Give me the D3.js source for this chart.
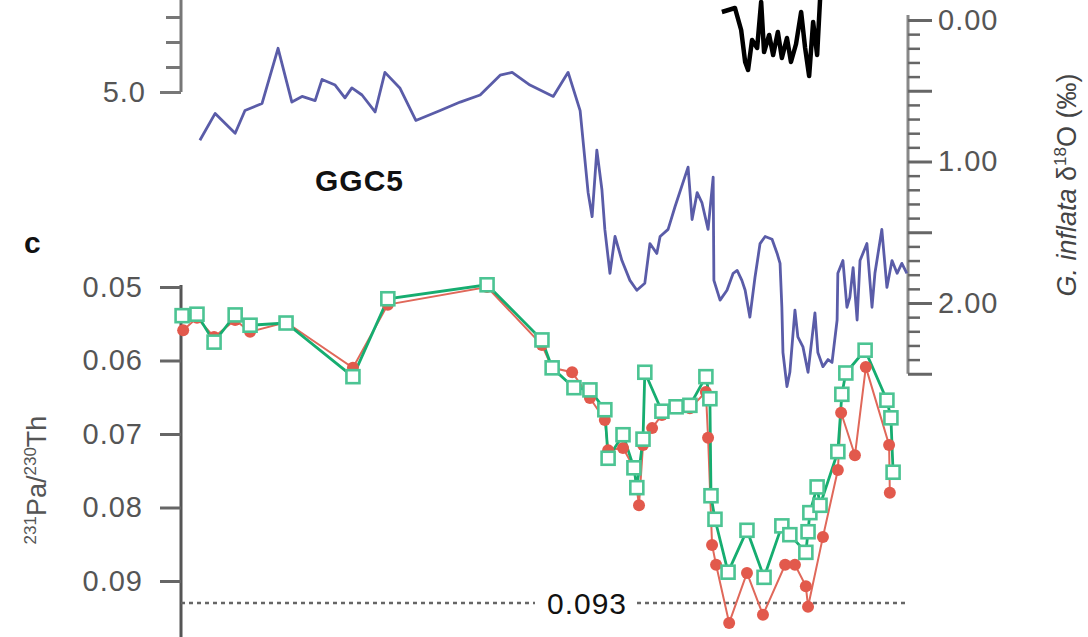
<!DOCTYPE html>
<html>
<head>
<meta charset="utf-8">
<script src="https://cdn.jsdelivr.net/npm/d3@7"></script>
<style>
  body { margin: 0; background: #fff; }
  svg { display: block; font-family: "Liberation Sans", Arial, Helvetica, sans-serif; }
</style>
</head>
<body>
<svg id="chart"></svg>
<script>
const width = 1088;
const height = 637;

// GGC5 G. inflata d18O (per mil), age in ka
const d18oAges = [0.52, 0.94, 1.49, 1.76, 2.23, 2.67, 3.05, 3.33, 3.69, 3.88, 4.24, 4.51, 4.70, 4.98, 5.34, 5.61,
    6.02, 6.46, 7.13, 7.68, 8.23, 8.78, 9.11, 9.60, 10.24, 10.65, 10.98, 11.20, 11.31, 11.44, 11.58, 11.66, 11.80,
    11.94, 12.13, 12.35, 12.54, 12.76, 12.90, 13.09, 13.18, 13.40, 13.59, 13.95, 14.06, 14.20, 14.33, 14.50, 14.64,
    14.66, 14.83, 15.02, 15.19, 15.30, 15.43, 15.52, 15.65, 15.79, 15.93, 16.07, 16.26, 16.40, 16.48, 16.53, 16.56,
    16.67, 16.75, 16.89, 16.97, 17.11, 17.25, 17.44, 17.52, 17.66, 17.80, 17.91, 18.05, 18.07, 18.21, 18.32, 18.40,
    18.49, 18.60, 18.68, 18.87, 19.01, 19.09, 19.28, 19.42, 19.56, 19.70, 19.83, 19.97];
const d18oValues = [0.85, 0.66, 0.80, 0.64, 0.59, 0.20, 0.58, 0.54, 0.57, 0.42, 0.46, 0.55, 0.48, 0.53, 0.65, 0.37,
    0.48, 0.71, 0.64, 0.58, 0.53, 0.39, 0.37, 0.46, 0.54, 0.37, 0.64, 1.22, 1.39, 0.92, 1.20, 1.48, 1.79,
    1.53, 1.70, 1.84, 1.91, 1.86, 1.58, 1.65, 1.53, 1.48, 1.32, 1.04, 1.41, 1.22, 1.29, 1.48, 1.11,
    1.84, 1.98, 1.91, 1.79, 1.77, 1.84, 1.91, 2.10, 1.82, 1.58, 1.53, 1.55, 1.65, 1.72, 2.03, 2.35,
    2.59, 2.49, 2.05, 2.24, 2.31, 2.49, 2.07, 2.35, 2.45, 2.40, 2.42, 2.12, 1.79, 1.70, 2.03, 1.96,
    1.75, 2.12, 1.70, 1.58, 2.03, 1.79, 1.48, 1.89, 1.70, 1.79, 1.72, 1.79];

// Pa/Th, open green squares
const greenAges = [0.03, 0.44, 0.91, 1.49, 1.90, 2.89, 4.73, 5.69, 8.42, 9.93, 10.21, 10.81, 11.25, 11.66, 11.75,
    12.16, 12.46, 12.54, 12.71, 12.76, 13.23, 13.62, 14.00, 14.44, 14.55, 14.58, 14.69, 15.05, 15.57, 16.04, 16.53,
    16.75, 17.19, 17.25, 17.30, 17.50, 17.58, 18.07, 18.18, 18.29, 18.82, 19.42, 19.53, 19.59];
const greenValues = [0.0539, 0.0537, 0.0575, 0.0538, 0.0552, 0.0549, 0.0622, 0.0516, 0.0497, 0.0572, 0.0610, 0.0637,
    0.0640, 0.0667, 0.0733, 0.0701, 0.0746, 0.0773, 0.0707, 0.0616, 0.0669, 0.0663, 0.0661, 0.0622, 0.0652, 0.0784,
    0.0816, 0.0888, 0.0831, 0.0895, 0.0825, 0.0837, 0.0861, 0.0833, 0.0807, 0.0772, 0.0797, 0.0724, 0.0646, 0.0617,
    0.0586, 0.0654, 0.0678, 0.0752];

// Pa/Th, filled red circles
const redAges = [0.06, 0.44, 0.91, 1.49, 1.90, 2.89, 4.73, 5.69, 8.42, 9.93, 10.21, 10.76, 11.25, 11.66, 11.75,
    12.16, 12.46, 12.60, 12.71, 12.96, 13.23, 14.00, 14.44, 14.50, 14.61, 14.72, 15.08, 15.57, 16.01, 16.62, 16.89,
    17.19, 17.25, 17.66, 18.07, 18.16, 18.54, 18.84, 19.48, 19.50];
const redValues = [0.0559, 0.0542, 0.0568, 0.0545, 0.0561, 0.0548, 0.0610, 0.0524, 0.0500, 0.0579, 0.0610, 0.0616,
    0.0651, 0.0681, 0.0722, 0.0719, 0.0746, 0.0797, 0.0715, 0.0692, 0.0674, 0.0665, 0.0643, 0.0705, 0.0851, 0.0878,
    0.0957, 0.0889, 0.0946, 0.0878, 0.0878, 0.0907, 0.0935, 0.0840, 0.0749, 0.0671, 0.0729, 0.0609, 0.0715, 0.0780];

// record from the panel above (only its lower edge is in view)
const upperAges = [14.88, 15.24, 15.41, 15.52, 15.60, 15.71, 15.85, 15.96, 16.04, 16.18, 16.29, 16.42, 16.53, 16.67,
    16.78, 16.92, 17.06, 17.17, 17.28, 17.39, 17.50, 17.58];
const upperValues = [6.60, 6.68, 6.24, 5.60, 5.44, 6.04, 5.88, 6.80, 5.80, 6.14, 5.74, 6.20, 5.68, 6.08,
    5.60, 5.96, 6.60, 5.88, 5.32, 6.40, 5.74, 6.84];

const paThTicks = [0.05, 0.06, 0.07, 0.08, 0.09];
const d18oLabelTicks = [0, 1, 2];
const productionRatio = 0.093;

const svg = d3.select("#chart")
    .attr("width", width)
    .attr("height", height);

const x = d3.scaleLinear().domain([0, 20]).range([181, 908]);
const yPa = d3.scaleLinear().domain([0.05, 0.09]).range([287, 581]);
const yD18o = d3.scaleLinear().domain([0, 2]).range([20, 303]);
const yUpper = d3.scaleLinear().domain([5, 6]).range([92, 42]);

const zip = (a, b) => a.map((d, i) => [d, b[i]]);
const d18o = zip(d18oAges, d18oValues);
const green = zip(greenAges, greenValues);
const red = zip(redAges, redValues);
const upper = zip(upperAges, upperValues);

// --- axes ---
function styleAxis(g, color, sw) {
    g.select(".domain").remove();
    g.selectAll(".tick line").attr("stroke", color).attr("stroke-width", sw);
    g.selectAll(".tick text")
        .attr("fill", "#555")
        .attr("font-size", 29)
        .attr("font-family", "'Liberation Sans', Arial, sans-serif")
        .style("letter-spacing", "1px");
}

// top-left axis (panel above)
svg.append("line")
    .attr("x1", 181).attr("x2", 181).attr("y1", 0).attr("y2", yUpper(5))
    .attr("stroke", "#777").attr("stroke-width", 3);
svg.append("g")
    .attr("transform", "translate(181,0)")
    .call(d3.axisLeft(yUpper).tickValues([5.5, 6.0, 6.5]).tickSize(15).tickFormat(""))
    .call(g => styleAxis(g, "#777", 3));
svg.append("g")
    .attr("transform", "translate(181,0)")
    .call(d3.axisLeft(yUpper).tickValues([5]).tickSize(21).tickPadding(14).tickFormat(d3.format(".1f")))
    .call(g => styleAxis(g, "#777", 3));

// left Pa/Th axis
svg.append("line")
    .attr("x1", 181).attr("x2", 181).attr("y1", yPa(0.05) - 2).attr("y2", height)
    .attr("stroke", "#555").attr("stroke-width", 3);
svg.append("g")
    .attr("transform", "translate(181,0)")
    .call(d3.axisLeft(yPa).tickValues(paThTicks).tickSize(21).tickPadding(17).tickFormat(d3.format(".2f")))
    .call(g => styleAxis(g, "#666", 3));

// right d18O axis
svg.append("line")
    .attr("x1", 908).attr("x2", 908).attr("y1", 15).attr("y2", yD18o(2.5))
    .attr("stroke", "#888").attr("stroke-width", 3);
svg.append("g")
    .attr("transform", "translate(908,0)")
    .call(d3.axisRight(yD18o).tickValues(d3.range(0, 26).filter(i => i % 5 !== 0).map(i => i / 10))
        .tickSize(12).tickFormat(""))
    .call(g => styleAxis(g, "#666", 2.5));
svg.append("g")
    .attr("transform", "translate(908,0)")
    .call(d3.axisRight(yD18o).tickValues([0, 0.5, 1, 1.5, 2, 2.5]).tickSize(24).tickPadding(6)
        .tickFormat(d => d3.format(".2f")(d)))
    .call(g => styleAxis(g, "#666", 3))
    .call(g => g.selectAll(".tick text").filter(d => !d18oLabelTicks.includes(d)).remove());

// production ratio line
svg.append("line")
    .attr("x1", 181).attr("x2", 908)
    .attr("y1", yPa(productionRatio)).attr("y2", yPa(productionRatio))
    .attr("stroke", "#666").attr("stroke-width", 2.5)
    .attr("stroke-dasharray", "4,4");
svg.append("rect")
    .attr("x", 535).attr("y", yPa(productionRatio) - 16)
    .attr("width", 98).attr("height", 32)
    .attr("fill", "#fff");
svg.append("text")
    .attr("x", 587).attr("y", yPa(productionRatio))
    .attr("dy", "0.36em")
    .attr("text-anchor", "middle")
    .attr("font-size", 30)
    .attr("fill", "#111")
    .style("letter-spacing", "1px")
    .text("0.093");

// --- series ---
const line = (yScale) => d3.line().x(d => x(d[0])).y(d => yScale(d[1]));

svg.append("path")
    .datum(upper)
    .attr("d", line(yUpper))
    .attr("fill", "none")
    .attr("stroke", "#000")
    .attr("stroke-width", 4.5)
    .attr("stroke-linejoin", "round");

svg.append("path")
    .datum(d18o)
    .attr("d", line(yD18o))
    .attr("fill", "none")
    .attr("stroke", "#5a5ca8")
    .attr("stroke-width", 2.8)
    .attr("stroke-linejoin", "round");

svg.append("path")
    .datum(red)
    .attr("d", line(yPa))
    .attr("fill", "none")
    .attr("stroke", "#e0685a")
    .attr("stroke-width", 2);

svg.append("path")
    .datum(green)
    .attr("d", line(yPa))
    .attr("fill", "none")
    .attr("stroke", "#16ad70")
    .attr("stroke-width", 2.8);

svg.selectAll(".red-dot")
    .data(red)
    .enter().append("circle")
    .attr("class", "red-dot")
    .attr("cx", d => x(d[0]))
    .attr("cy", d => yPa(d[1]))
    .attr("r", 6)
    .attr("fill", "#e2594c");

svg.selectAll(".green-sq")
    .data(green)
    .enter().append("rect")
    .attr("class", "green-sq")
    .attr("x", d => x(d[0]) - 6.5)
    .attr("y", d => yPa(d[1]) - 6.5)
    .attr("width", 13)
    .attr("height", 13)
    .attr("fill", "#fff")
    .attr("stroke", "#4cc493")
    .attr("stroke-width", 2.6);

// --- labels ---
svg.append("text")
    .attr("x", 315).attr("y", 191)
    .attr("font-size", 30)
    .attr("font-weight", "bold")
    .attr("fill", "#111")
    .style("letter-spacing", "1px")
    .text("GGC5");

svg.append("text")
    .attr("x", 24).attr("y", 253)
    .attr("font-size", 30)
    .attr("font-weight", "bold")
    .attr("fill", "#111")
    .text("c");

const yLabel = svg.append("text")
    .attr("transform", "translate(46,480) rotate(-90)")
    .attr("text-anchor", "middle")
    .attr("font-size", 27)
    .attr("fill", "#555");
yLabel.append("tspan").attr("font-size", 17).attr("dy", -10).text("231");
yLabel.append("tspan").attr("dy", 10).text("Pa/");
yLabel.append("tspan").attr("font-size", 17).attr("dy", -10).text("230");
yLabel.append("tspan").attr("dy", 10).text("Th");

const rLabel = svg.append("text")
    .attr("transform", "translate(1076,185) rotate(-90)")
    .attr("text-anchor", "middle")
    .attr("font-size", 27)
    .attr("fill", "#444");
rLabel.append("tspan").attr("font-style", "italic").text("G. inflata ");
rLabel.append("tspan").text("\u03b4");
rLabel.append("tspan").attr("font-size", 17).attr("dy", -10).text("18");
rLabel.append("tspan").attr("dy", 10).text("O (\u2030)");
</script>
</body>
</html>
